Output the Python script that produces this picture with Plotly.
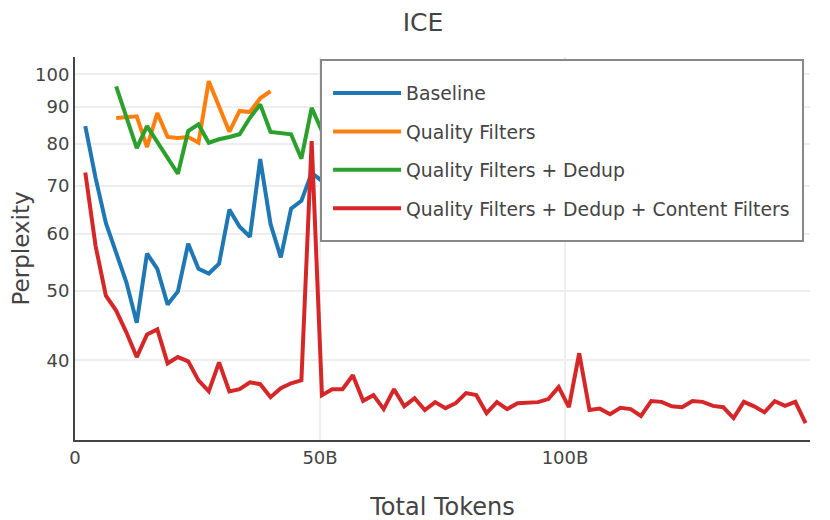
import plotly.graph_objects as go

# Checkpoint positions, in billions of tokens
tokens_b = [2.1, 4.2, 6.3, 8.4, 10.5, 12.6, 14.7, 16.8, 18.9, 21.0,
            23.1, 25.2, 27.3, 29.4, 31.5, 33.6, 35.7, 37.8, 39.9, 42.0,
            44.1, 46.2, 48.3, 50.4, 52.5, 54.6, 56.7, 58.8, 60.9, 63.0,
            65.1, 67.2, 69.3, 71.4, 73.5, 75.6, 77.7, 79.8, 81.9, 84.0,
            86.1, 88.2, 90.3, 92.4, 94.5, 96.6, 98.7, 100.8, 102.9, 105.0,
            107.1, 109.2, 111.3, 113.4, 115.5, 117.6, 119.7, 121.8, 123.9, 126.0,
            128.1, 130.2, 132.3, 134.4, 136.5, 138.6, 140.7, 142.8, 144.9, 147.0,
            149.1]

baseline_x = tokens_b[0:25]
baseline = [84.7, 71.75, 62.1, 56.3, 51.3, 45.1, 56.3, 53.6, 47.8, 49.85,
            58.1, 53.6, 52.8, 54.5, 64.8, 61.35, 59.4, 76.2, 61.9, 55.6,
            65.0, 66.65, 72.9, 71.05, 70.0]

quality_x = tokens_b[3:19]
quality = [86.9, 87.2, 87.4, 79.2, 88.3, 81.8, 81.5, 81.8, 80.3, 97.8,
           90.0, 83.2, 88.9, 88.6, 92.6, 94.7]

dedup_x = tokens_b[3:25]
dedup = [96.2, 87.2, 78.9, 84.7, 80.5, 76.5, 72.7, 83.35, 85.15, 80.3,
         81.2, 81.8, 82.5, 86.97, 90.8, 83.1, 82.8, 82.5, 76.3, 89.8,
         83.35, 82.0]

content_x = tokens_b
content = [73.0, 57.7, 49.2, 46.9, 43.7, 40.4, 43.45, 44.15, 39.6, 40.4,
           39.86, 37.5, 36.2, 39.73, 36.2, 36.45, 37.27, 37.04, 35.53, 36.57,
           37.15, 37.5, 80.75, 35.76, 36.45, 36.45, 38.11, 35.12, 35.76, 34.2,
           36.45, 34.52, 35.42, 34.09, 34.97, 34.3, 34.85, 35.99, 35.76, 33.76,
           34.97, 34.2, 34.85, 34.9, 34.97, 35.31, 36.69, 34.42, 40.9, 34.09,
           34.25, 33.65, 34.35, 34.2, 33.45, 35.09, 35.0, 34.5, 34.4, 35.09,
           35.0, 34.55, 34.4, 33.23, 35.0, 34.5, 33.85, 35.09, 34.55, 35.0,
           32.7]

series = [
    ("Baseline", baseline_x, baseline, "#1f77b4"),
    ("Quality Filters", quality_x, quality, "#ff7f0e"),
    ("Quality Filters + Dedup", dedup_x, dedup, "#2ca02c"),
    ("Quality Filters + Dedup + Content Filters", content_x, content, "#d62728"),
]

x_tickvals = [0, 50, 100]
x_ticktext = ["0", "50B", "100B"]
y_tickvals = [40, 50, 60, 70, 80, 90, 100]

FONT = "DejaVu Sans"
TXT = "#444"

fig = go.Figure()
for i, (name, xs, ys, col) in enumerate(series):
    fig.add_trace(go.Scatter(
        x=xs, y=ys, mode="lines", name=name,
        line=dict(color=col, width=4),
        legendgroup=f"g{i}",
    ))

# legend frame (white box with grey border, drawn over the lines)
fig.add_shape(type="rect", xref="paper", yref="paper",
              x0=0.3347, x1=0.9905, y0=0.5196, y1=0.9922,
              line=dict(color="#888", width=2), fillcolor="white", layer="above")

fig.update_layout(
    width=830, height=520,
    margin=dict(l=67, r=28, t=49, b=88, autoexpand=False),
    paper_bgcolor="white", plot_bgcolor="white",
    font=dict(family=FONT, color=TXT, size=18),
    title=dict(text="ICE", x=0.5, xanchor="center", y=1.0, yanchor="top",
               pad=dict(t=5),
               font=dict(size=25, family=FONT, color=TXT)),
    legend=dict(
        x=0.3443, y=0.955, xanchor="left", yanchor="top",
        bgcolor="rgba(0,0,0,0)", borderwidth=0,
        font=dict(size=18.8, family=FONT, color=TXT),
        traceorder="grouped", tracegroupgap=11, itemwidth=68,
    ),
    xaxis=dict(
        range=[0, 150], tickvals=x_tickvals, ticktext=x_ticktext,
        showline=True, linecolor="#444", linewidth=2,
        showgrid=True, gridcolor="#eeeeee", gridwidth=2,
        zeroline=False, ticks="", automargin=False,
        title=dict(text="Total Tokens", font=dict(size=24, family=FONT, color=TXT), standoff=32),
        tickfont=dict(size=18, family=FONT, color=TXT),
    ),
    yaxis=dict(
        type="log", range=[1.491, 2.024], tickvals=y_tickvals,
        ticktext=[str(v) for v in y_tickvals],
        showline=True, linecolor="#444", linewidth=2,
        showgrid=True, gridcolor="#eeeeee", gridwidth=2,
        zeroline=False, ticks="", automargin=False,
        title=dict(text="Perplexity", font=dict(size=23, family=FONT, color=TXT), standoff=11),
        tickfont=dict(size=18, family=FONT, color=TXT),
    ),
)

fig.write_html("out.html")
